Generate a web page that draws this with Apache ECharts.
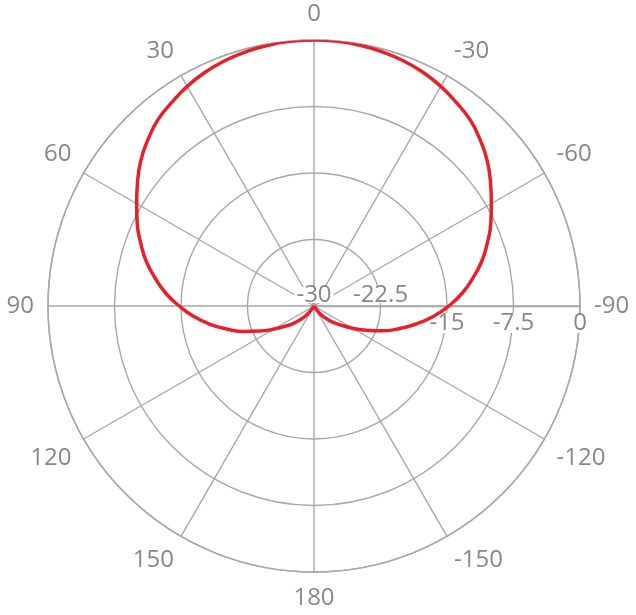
<!DOCTYPE html>
<html><head><meta charset="utf-8">
<script src="https://cdn.jsdelivr.net/npm/echarts@6/dist/echarts.min.js"></script>
<style>html,body{margin:0;padding:0;background:#fff}#c{width:636px;height:615px}</style>
</head><body><div id="c"></div>
<script>
// angle in degrees (0 = front/top, positive = counter-clockwise), level in dB
const angles = [180,175,170,165,160,155,150,145,140,135,130,125,120,115,110,105,100,95,90,85,80,75,70,65,60,55,50,45,40,35,30,25,20,15,10,5,0,
  -5,-10,-15,-20,-25,-30,-35,-40,-45,-50,-55,-60,-65,-70,-75,-80,-85,-90,-95,-100,-105,-110,-115,-120,-125,-130,-135,-140,-145,-150,-155,-160,-165,-170,-175,-180];
const levels = [-30,-30,-30,-30,-30,-30,-30,-29.4,-28.6,-27.8,-26.9,-26.0,-24.8,-23.3,-21.6,-19.9,-18.1,-16.4,-14.8,-13.2,-11.8,-10.4,-9.2,-8.0,-6.9,-5.7,-4.5,-3.5,-2.6,-2.0,-1.4,-0.92,-0.56,-0.32,-0.13,-0.03,0,
  -0.03,-0.13,-0.32,-0.56,-0.92,-1.4,-2.0,-2.6,-3.5,-4.5,-5.7,-6.9,-8.0,-9.2,-10.4,-11.8,-13.2,-14.8,-16.5,-18.3,-20.1,-21.8,-23.5,-25.0,-26.2,-27.1,-27.9,-28.6,-29.4,-30,-30,-30,-30,-30,-30,-30];
const radiusTicks = [-30, -22.5, -15, -7.5, 0];
const angleTicks = [0, 30, 60, 90, 120, 150, 180, -150, -120, -90, -60, -30];

const gray = '#a8a8a8';
const textGray = '#888888';
const font = '"Open Sans", "Noto Sans", sans-serif';

const data = angles.map((a, i) => [levels[i], a < -90 ? a + 360 : a]);

const chart = echarts.init(document.getElementById('c'), null, {renderer: 'canvas'});
chart.setOption({
  animation: false,
  backgroundColor: '#fff',
  polar: { center: [314, 306], radius: 266 },
  angleAxis: {
    type: 'value', min: -90, max: 270, interval: 30,
    startAngle: 0, clockwise: false,
    axisLine: { show: true, lineStyle: { color: gray, width: 1.4 } },
    axisTick: { show: false },
    splitLine: { show: true, lineStyle: { color: gray, width: 1.4 } },
    axisLabel: {
      margin: 14, color: textGray, fontSize: 24, fontFamily: font,
      formatter: v => {
        const t = v > 180 ? v - 360 : v;
        return angleTicks.indexOf(t) >= 0 ? String(t) : '';
      }
    }
  },
  radiusAxis: {
    type: 'value', min: radiusTicks[0], max: radiusTicks[radiusTicks.length - 1], interval: 7.5,
    axisLine: { show: true, lineStyle: { color: gray, width: 1.4 } },
    axisTick: { show: false },
    splitLine: { show: true, lineStyle: { color: gray, width: 1.4 } },
    axisLabel: {
      margin: 0, verticalAlign: 'middle', align: 'center',
      color: textGray, fontSize: 24, fontFamily: font,
      formatter: v => v < -15 ? '{a|' + v + '}\n{u| }' : '{d| }\n{t|' + v + '}',
      rich: {
        a: { fontSize: 24, fontFamily: font, color: textGray, height: 16, lineHeight: 20, backgroundColor: '#fff', padding: [0, 2] },
        t: { fontSize: 24, fontFamily: font, color: textGray, height: 20, lineHeight: 20, backgroundColor: '#fff', padding: [0, 2] },
        u: { fontSize: 2, lineHeight: 22 },
        d: { fontSize: 2, lineHeight: 34 }
      }
    }
  },
  series: [{
    type: 'line', coordinateSystem: 'polar',
    data: data, symbol: 'none', smooth: true,
    lineStyle: { color: '#e8202a', width: 3.5 }, z: 5
  }]
});
</script>
</body></html>
